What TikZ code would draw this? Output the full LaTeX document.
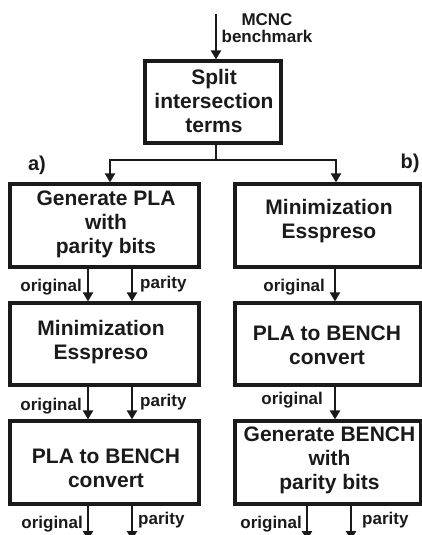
\documentclass[tikz,border=0pt]{standalone}
\usepackage{fontspec}
\setmainfont{Liberation Sans}
\usetikzlibrary{arrows.meta}
\definecolor{ink}{HTML}{1A1A1A}
\begin{document}
\begin{tikzpicture}[x=1pt,y=-1pt,
  box/.style={draw=ink,line width=3.2pt,inner sep=0pt},
  btxt/.style={align=center,inner sep=0pt,text=ink,font=\fontsize{21}{24}\selectfont\bfseries},
  lbl/.style={inner sep=0pt,text=ink,font=\fontsize{17}{17}\selectfont\bfseries},
  abc/.style={inner sep=0pt,text=ink,font=\fontsize{20}{20}\selectfont\bfseries},
  arr/.style={draw=ink,line width=2.4pt,-{Triangle[length=9pt,width=10pt]}},
  ln/.style={draw=ink,line width=2.4pt}]
\useasboundingbox (0,0) rectangle (422,535);
% boxes
\node[box,minimum width=136pt,minimum height=82pt] (s) at (213,102) {};
\node[btxt] at (214,101) {Split\\intersection\\terms};
\node[box,minimum width=189pt,minimum height=83pt] (l1) at (104.5,225.5) {};
\node[btxt] at (106,224) {Generate PLA\\with\\parity bits};
\node[box,minimum width=189pt,minimum height=82pt] (l2) at (104.5,344) {};
\node[btxt] at (101,342) {Minimization\\Esspreso};
\node[box,minimum width=189pt,minimum height=83pt] (l3) at (104.5,462.5) {};
\node[btxt] at (106,468) {PLA to BENCH\\convert};
\node[box,minimum width=186pt,minimum height=83pt] (r1) at (328,225.5) {};
\node[btxt] at (329,221) {Minimization\\Esspreso};
\node[box,minimum width=186pt,minimum height=82pt] (r2) at (328,344) {};
\node[btxt] at (327,345) {PLA to BENCH\\convert};
\node[box,minimum width=186pt,minimum height=83pt] (r3) at (328,462.5) {};
\node[btxt] at (329.5,460) {Generate BENCH\\with\\parity bits};
% top input
\coordinate (in) at (216,14);
\draw[arr] (in) -- (in |- s.north);
\node[lbl,align=center] (mcnc) at (267,28) {MCNC\\benchmark};
% split
\coordinate (st) at (216,160);
\coordinate (bl) at (110,160);
\coordinate (br) at (336,160);
\draw[ln] (st |- s.south) -- (st);
\draw[ln] ([xshift=-1.2pt]bl) -- ([xshift=1.2pt]br);
\draw[arr] (bl) -- (bl |- l1.north);
\draw[arr] (br) -- (br |- r1.north);
\node[abc] (a) at (37,165) {a)};
\node[abc] (b) at (410,163) {b)};
% left column
\coordinate (ca) at (88,0);
\coordinate (cb) at (132,0);
\draw[arr] (l1.south -| ca) -- (l2.north -| ca);
\draw[arr] (l1.south -| cb) -- (l2.north -| cb);
\draw[arr] (l2.south -| ca) -- (l3.north -| ca);
\draw[arr] (l2.south -| cb) -- (l3.north -| cb);
\coordinate (ea) at (88,540);
\coordinate (eb) at (132,540);
\draw[arr] (l3.south -| ca) -- (ea);
\draw[arr] (l3.south -| cb) -- (eb);
\node[lbl,anchor=east] (lo1) at (82,287) {original};
\node[lbl,anchor=west] (lp1) at (140,284.5) {parity};
\node[lbl,anchor=east] (lo2) at (82,406) {original};
\node[lbl,anchor=west] (lp2) at (140,402.5) {parity};
\node[lbl,anchor=east] (lo3) at (83,524.5) {original};
\node[lbl,anchor=west] (lp3) at (138,520.5) {parity};
% right column
\coordinate (cr) at (335,0);
\draw[arr] (r1.south -| cr) -- (r2.north -| cr);
\draw[arr] (r2.south -| cr) -- (r3.north -| cr);
\coordinate (ec) at (307,540);
\coordinate (ed) at (351,540);
\draw[arr] (r3.south -| ec) -- (ec);
\draw[arr] (r3.south -| ed) -- (ed);
\node[lbl,anchor=east] (ro1) at (325,287) {original};
\node[lbl,anchor=east] (ro2) at (323,400.5) {original};
\node[lbl,anchor=east] (ro3) at (302,524.5) {original};
\node[lbl,anchor=west] (rp3) at (362,520.5) {parity};
\end{tikzpicture}
\end{document}
